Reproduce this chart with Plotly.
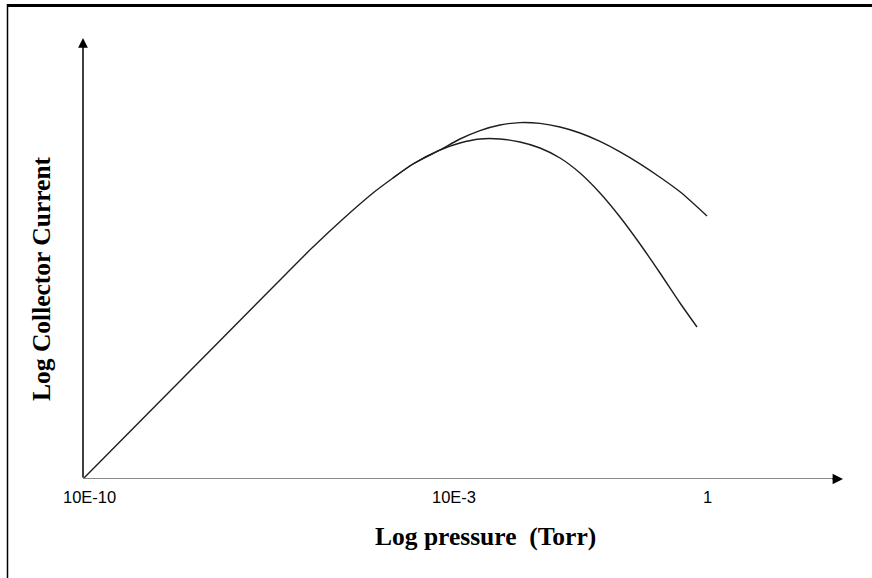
import plotly.graph_objects as go

# Positions along the log-pressure axis (arbitrary linear units, origin at 10E-10)
common_x = [0, 50, 100, 150, 200, 230, 260, 290, 310, 330, 357]
common_y = [0, 50.5, 101, 151.5, 202, 232, 260, 286, 301, 315, 329]

upper_x = [377, 397, 417, 437, 457, 477, 497, 517, 537, 557, 577, 597, 624]
upper_y = [340, 348.4, 354, 356.4, 355.6, 352, 346, 337.6, 327.2, 315.2, 301.8, 287.2, 263]

lower_x = [377, 397, 417, 437, 457, 477, 497, 517, 537, 557, 577, 597, 614]
lower_y = [336, 340, 340, 337, 331, 321, 306, 286, 262, 235, 206, 176, 152]

tick_vals = [0, 371, 624]
tick_text = ["10E-10", "10E-3", "1"]

x_axis_end = 760
y_axis_end = 441

x_title = "Log pressure \u00a0(Torr)"
y_title = "Log Collector Current"

line_color = "#1e1e1e"

fig = go.Figure()
fig.add_trace(go.Scatter(
    x=common_x + upper_x, y=common_y + upper_y, mode="lines",
    line=dict(color=line_color, width=1.4, shape="spline", smoothing=0.8),
    hoverinfo="skip", showlegend=False))
fig.add_trace(go.Scatter(
    x=common_x[-3:] + lower_x, y=common_y[-3:] + lower_y, mode="lines",
    line=dict(color=line_color, width=1.4, shape="spline", smoothing=0.8),
    hoverinfo="skip", showlegend=False))

shapes = []
annotations = []

# frame: top and left lines
shapes.append(dict(type="line", xref="paper", yref="paper",
                   x0=(7.5 - 83) / 760, x1=(872 - 83) / 760,
                   y0=(479 - 5.5) / 441, y1=(479 - 5.5) / 441,
                   line=dict(color="black", width=3)))
shapes.append(dict(type="line", xref="paper", yref="paper",
                   x0=(7.5 - 83) / 760, x1=(7.5 - 83) / 760,
                   y0=(479 - 4) / 441, y1=(479 - 580) / 441,
                   line=dict(color="black", width=1.5)))

# x axis line (gray) with black arrow head
shapes.append(dict(type="line", xref="x", yref="y", x0=0, x1=x_axis_end - 6,
                   y0=0, y1=0, line=dict(color="#8a8a8a", width=2)))
annotations.append(dict(x=x_axis_end, y=0, ax=x_axis_end - 12, ay=0,
                        xref="x", yref="y", axref="x", ayref="y",
                        showarrow=True, arrowhead=2, arrowsize=1.3,
                        arrowwidth=1.6, arrowcolor="black", text="",
                        standoff=0, startstandoff=0))
# y axis with arrow
annotations.append(dict(x=0, y=y_axis_end, ax=0, ay=0,
                        xref="x", yref="y", axref="x", ayref="y",
                        showarrow=True, arrowhead=2, arrowsize=1.3,
                        arrowwidth=1.5, arrowcolor="black", text="",
                        standoff=0, startstandoff=0))

# tick marks and labels
for v, t in zip(tick_vals, tick_text):
    if v != 0:
        shapes.append(dict(type="line", xref="x", yref="y", ysizemode="pixel",
                           yanchor=0, x0=v, x1=v, y0=0, y1=-7,
                           line=dict(color="black", width=1)))
    annotations.append(dict(x=v, y=0, xref="x", yref="y", text=t,
                            showarrow=False, yanchor="top", xanchor="center",
                            xshift=6 if v == 0 else 0, yshift=-7,
                            font=dict(family="Liberation Sans, Arial", size=16.5,
                                      color="black")))

annotations.append(dict(x=(485 - 83) / 760, y=(479 - 536) / 441,
                        xref="paper", yref="paper", text="<b>" + x_title + "</b>",
                        showarrow=False, xanchor="center", yanchor="middle",
                        font=dict(family="Liberation Serif, Times New Roman",
                                  size=25.5, color="black")))
annotations.append(dict(x=(41 - 83) / 760, y=(479 - 279) / 441,
                        xref="paper", yref="paper", text="<b>" + y_title + "</b>",
                        textangle=-90, showarrow=False,
                        xanchor="center", yanchor="middle",
                        font=dict(family="Liberation Serif, Times New Roman",
                                  size=25.5, color="black")))

fig.update_layout(
    width=872, height=578,
    margin=dict(l=83, r=29, t=38, b=99),
    paper_bgcolor="white", plot_bgcolor="white",
    xaxis=dict(range=[0, x_axis_end], visible=False, fixedrange=True),
    yaxis=dict(range=[0, y_axis_end], visible=False, fixedrange=True),
    shapes=shapes, annotations=annotations,
)

fig.write_html("out.html", config={"displayModeBar": False})
